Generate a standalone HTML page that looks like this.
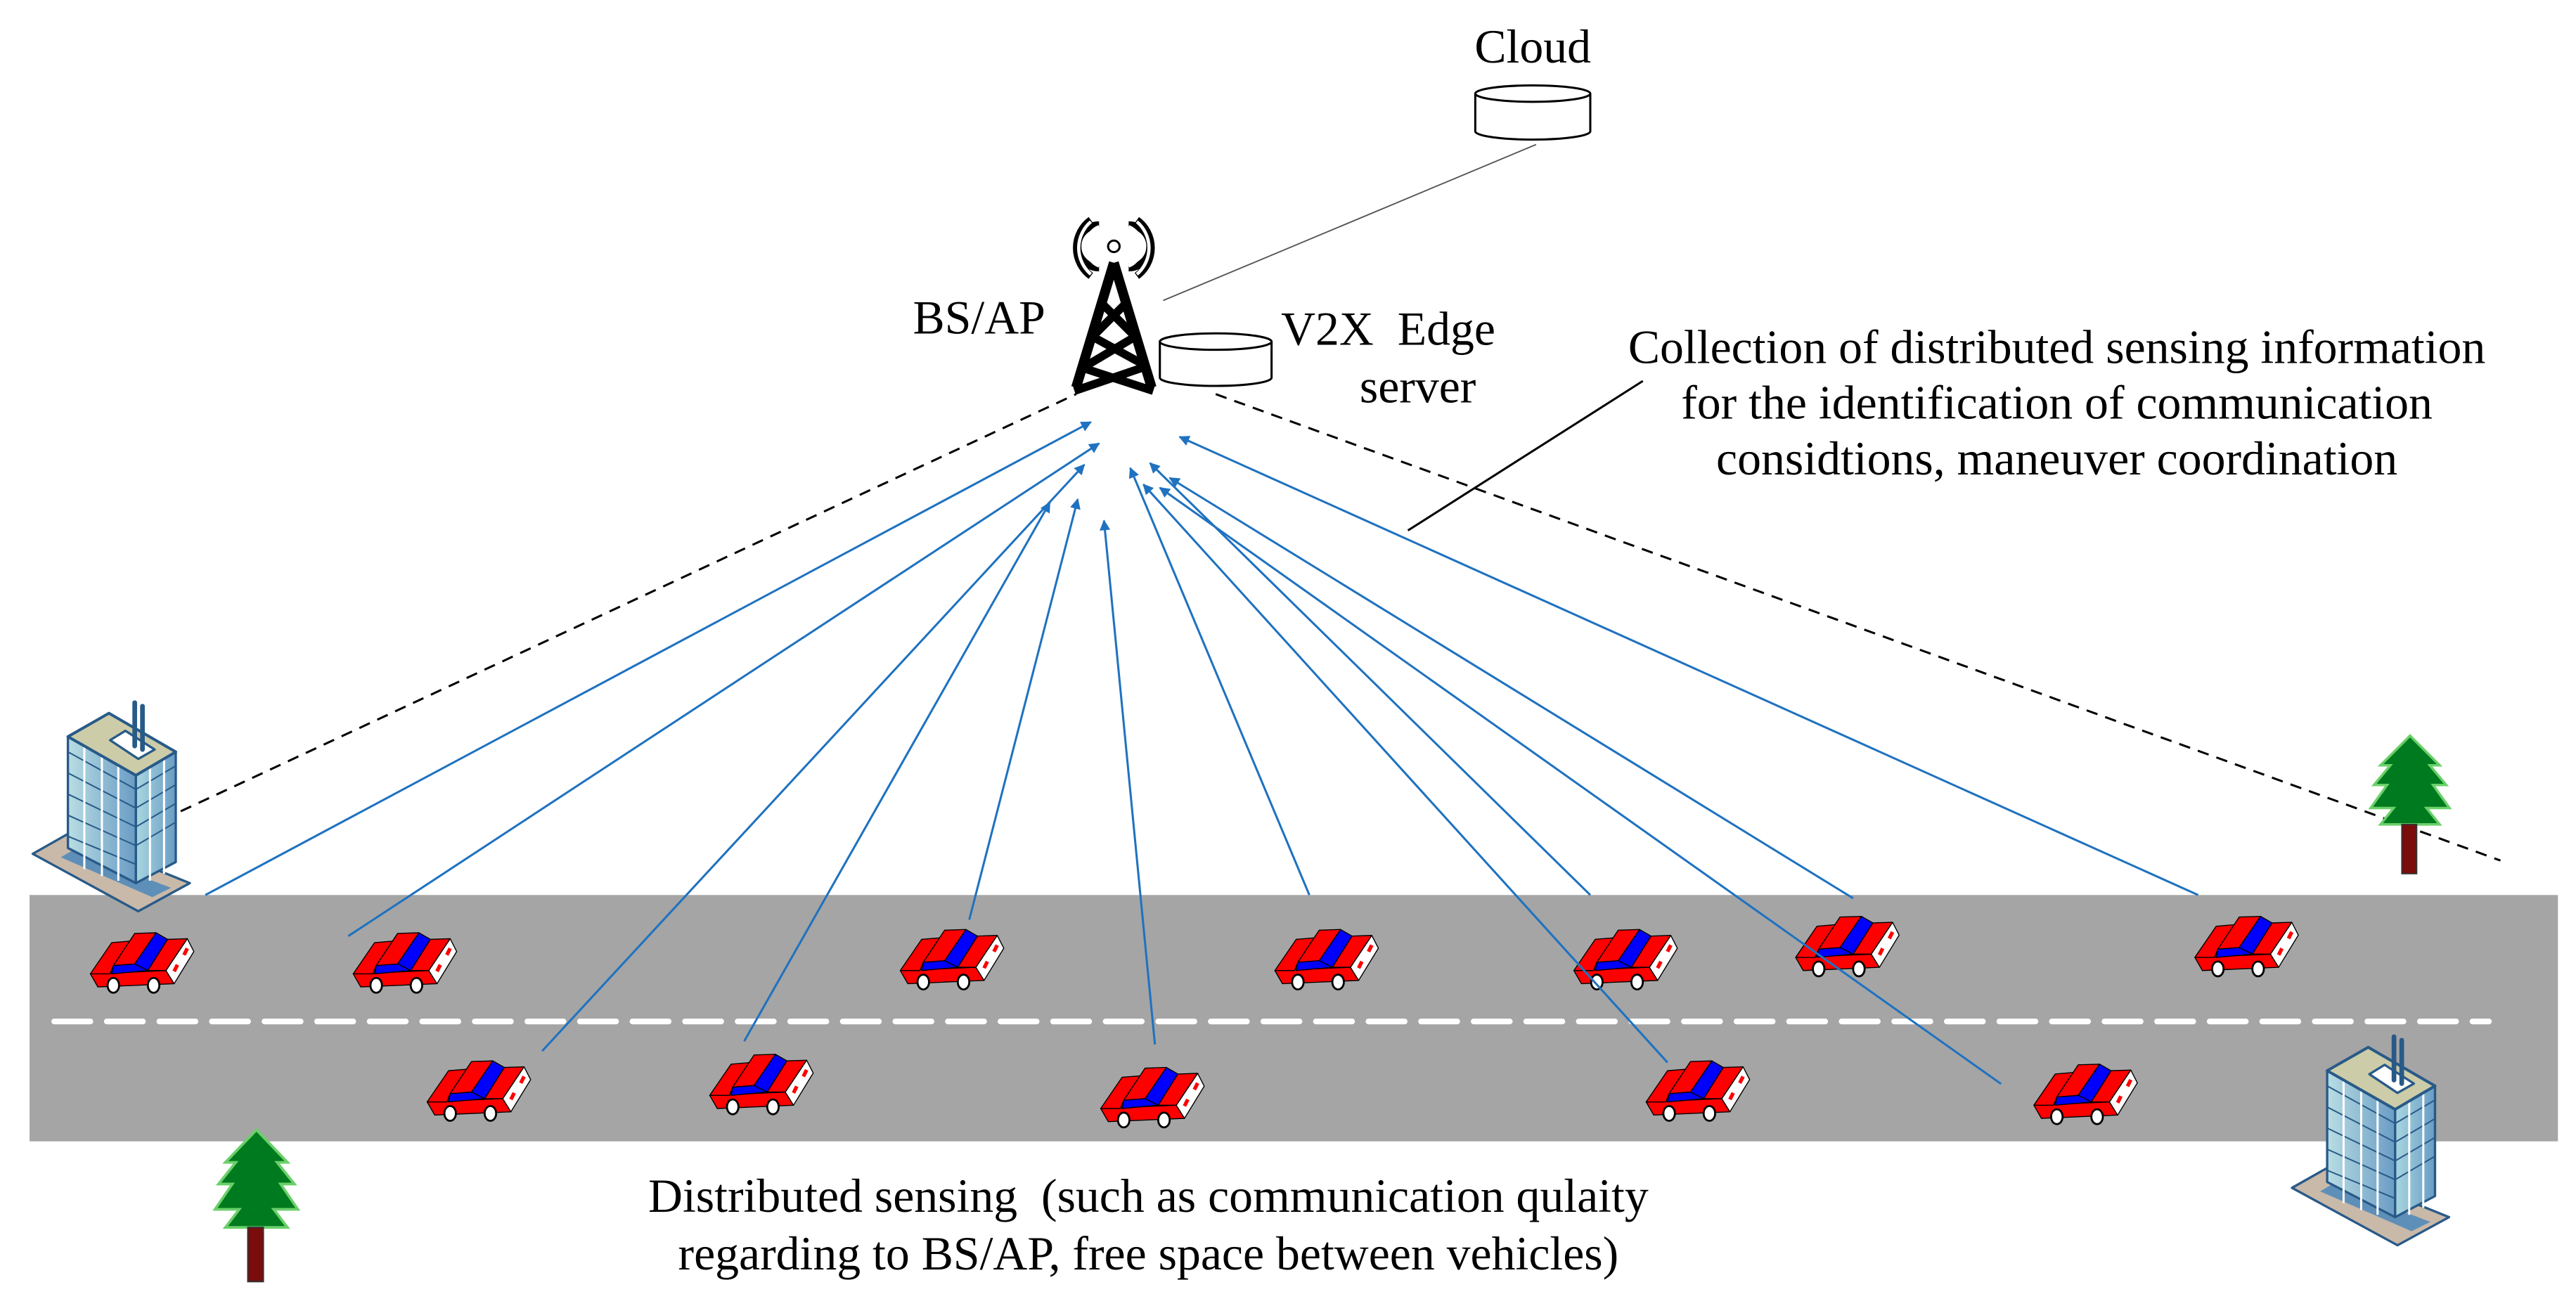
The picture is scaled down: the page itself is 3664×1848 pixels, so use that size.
<!DOCTYPE html>
<html><head><meta charset="utf-8"><style>
html,body{margin:0;padding:0;background:#fff;}
svg{display:block;}
text{font-family:"Liberation Serif",serif;font-size:29px;fill:#000;}
</style></head><body>
<svg width="3664" height="1848" viewBox="0 0 1568 791" preserveAspectRatio="none" xmlns="http://www.w3.org/2000/svg">
<defs>
<marker id="ah" viewBox="0 0 10 10" refX="9" refY="5" markerWidth="5" markerHeight="5" orient="auto"><path d="M0,0 L10,5 L0,10 z" fill="#1f72c0"/></marker>
<g id="car" stroke="#000" stroke-width="0.6" stroke-linejoin="round">
<polygon points="0,25 4.6,33 51,31 46,23" fill="#f00"/>
<polygon points="46,23 51,31 63,11.4 59,3.6" fill="#fff"/>
<polygon points="0,25 13,6 25,5 14,20 12,25" fill="#f00"/>
<polygon points="14,20 27,0.4 40,0 27,19" fill="#f00"/>
<polygon points="27,19 40,0 47,4 35,23" fill="#00f"/>
<polygon points="14,20 27,19 35,23 13,25" fill="#00f"/>
<polygon points="35,23 47,4 59,3.6 46,23" fill="#f00"/>
<polygon points="56,13 58,9 60,10 58,14" fill="#f00" stroke="none"/>
<polygon points="50,23 52,19 54,20 52,24" fill="#f00" stroke="none"/>
<ellipse cx="14" cy="32" rx="3.5" ry="4.5" fill="#fff" stroke-width="1.2"/>
<ellipse cx="38.5" cy="32" rx="3.5" ry="4.5" fill="#fff" stroke-width="1.2"/>
</g>
<linearGradient id="bl" x1="0" x2="1"><stop offset="0" stop-color="#b8dde3"/><stop offset="1" stop-color="#6a9cc4"/></linearGradient>
<linearGradient id="br" x1="0" x2="1"><stop offset="0" stop-color="#a8d6e0"/><stop offset="1" stop-color="#6a9cc4"/></linearGradient>
<g id="bld" stroke="#285a88" stroke-width="10" stroke-linejoin="round">
<polygon points="50,675 200,590 720,800 500,920" fill="#c9b9a9"/>
<polygon points="170,690 220,660 640,820 560,860" fill="#5e8fb8" stroke="none"/>
<polygon points="200,175 490,340 490,800 200,650" fill="url(#bl)"/>
<polygon points="490,340 660,240 660,710 490,800" fill="url(#br)"/>
<g stroke-width="6" fill="none">
<path d="M200,240 L490,400 M200,330 L490,480 M200,420 L490,560 M200,510 L490,640 M200,600 L490,720"/>
<path d="M490,400 L660,300 M490,480 L660,380 M490,560 L660,460 M490,640 L660,540"/>
<path d="M270,210 L270,740 M345,250 L345,770 M415,290 L415,790 M550,305 L550,790 M610,270 L610,760" stroke="#fff" stroke-width="9"/>
</g>
<polygon points="200,175 375,75 660,240 490,340" fill="#cccca8" stroke-width="12"/>
<polygon points="380,190 445,150 570,230 500,270" fill="#fff" stroke-width="10"/>
<path d="M485,30 L485,215 M518,45 L518,230" stroke-width="20" stroke-linecap="round" fill="none"/>
</g>
<g id="tree">
<polygon points="22,0 4,18 10,18 0,30 8,30 -2,44 12,44 4,54 40,54 32,44 46,44 36,30 44,30 34,18 40,18" fill="#007a1e" stroke="#6ad06a" stroke-width="1.5"/>
<rect x="17" y="54" width="9" height="30" fill="#7a0c0c" stroke="#333" stroke-width="0.8"/>
</g>
</defs>

<rect x="18" y="545" width="1539" height="150" fill="#a5a5a5"/>
<line x1="33" y1="622" x2="1515" y2="622" stroke="#fff" stroke-width="3.5" stroke-dasharray="22,10" stroke-linecap="round"/>

<line x1="110" y1="494" x2="655" y2="240" stroke="#000" stroke-width="1.3" stroke-dasharray="7,5"/>
<line x1="740" y1="240" x2="1522" y2="524" stroke="#000" stroke-width="1.3" stroke-dasharray="7,5"/>

<use href="#bld" transform="translate(12.8,423.6) scale(0.1427)"/>
<use href="#bld" transform="translate(1388,627) scale(0.1427)"/>
<use href="#tree" transform="translate(1445,448)"/>
<use href="#tree" transform="translate(133,688) scale(1.05,1.1)"/>

<use href="#car" x="55" y="568"/>
<use href="#car" x="215" y="568"/>
<use href="#car" x="548" y="566"/>
<use href="#car" x="776" y="566"/>
<use href="#car" x="958" y="566"/>
<use href="#car" x="1093" y="558"/>
<use href="#car" x="1336" y="558"/>
<use href="#car" x="260" y="646"/>
<use href="#car" x="432" y="642"/>
<use href="#car" x="670" y="650"/>
<use href="#car" x="1002" y="646"/>
<use href="#car" x="1238" y="648"/>

<g stroke="#1f72c0" stroke-width="1.3" fill="none" marker-end="url(#ah)">
<line x1="125" y1="545" x2="664" y2="257"/>
<line x1="212" y1="570" x2="669" y2="270"/>
<line x1="330" y1="640" x2="660" y2="283"/>
<line x1="453" y1="634" x2="639" y2="306"/>
<line x1="590" y1="560" x2="656" y2="304"/>
<line x1="703" y1="636" x2="672" y2="317"/>
<line x1="797" y1="545" x2="688" y2="285"/>
<line x1="968" y1="545" x2="700" y2="282"/>
<line x1="1015" y1="647" x2="696" y2="295"/>
<line x1="1128" y1="547" x2="712" y2="291"/>
<line x1="1218" y1="660" x2="706" y2="297"/>
<line x1="1338" y1="545" x2="718" y2="266"/>
</g>

<line x1="935" y1="88" x2="708" y2="183" stroke="#555" stroke-width="0.8"/>
<g stroke="#000" stroke-width="1.3" fill="#fff">
<path d="M898,57 L898,80 A35,5 0 0 0 968,80 L968,57"/>
<ellipse cx="933" cy="57" rx="35" ry="5"/>
</g>
<text x="933" y="38" text-anchor="middle">Cloud</text>

<g fill="none" stroke="#000">
<path d="M678,160 L655,236 M678,160 L701,236" stroke-width="6"/>
<path d="M671,185 L691,205 M685,185 L665,205 M665,205 L698,223 M691,205 L659,224 M659,224 L702,238 M698,223 L654,238" stroke-width="5"/>
<circle cx="678" cy="150" r="3.5" stroke-width="1.3"/>
<g stroke-width="4.5">
<path d="M664,168 A21,21 0 0 1 664,134 M669,163 A13,13 0 0 1 669,137"/>
<path d="M692,168 A21,21 0 0 0 692,134 M687,163 A13,13 0 0 0 687,137"/>
</g>
<g stroke-width="2" stroke="#fff">
<path d="M664,167 A21,21 0 0 1 664,135 M669,162 A13,13 0 0 1 669,138"/>
<path d="M692,167 A21,21 0 0 0 692,135 M687,162 A13,13 0 0 0 687,138"/>
</g>
</g>
<g stroke="#000" stroke-width="1.3" fill="#fff">
<path d="M706,208 L706,230 A34,5 0 0 0 774,230 L774,208"/>
<ellipse cx="740" cy="208" rx="34" ry="5"/>
</g>
<text x="596" y="203" text-anchor="middle">BS/AP</text>
<text x="845" y="210" text-anchor="middle">V2X&#160;&#160;Edge</text>
<text x="863" y="245" text-anchor="middle">server</text>

<line x1="1000" y1="232" x2="857" y2="323" stroke="#000" stroke-width="1.3"/>
<text x="1252" y="221" text-anchor="middle">Collection of distributed sensing information</text>
<text x="1252" y="255" text-anchor="middle">for the identification of communication</text>
<text x="1252" y="289" text-anchor="middle">considtions, maneuver coordination</text>

<text x="699" y="738" text-anchor="middle">Distributed sensing&#160;&#160;(such as communication qulaity</text>
<text x="699" y="773" text-anchor="middle">regarding to BS/AP, free space between vehicles)</text>
</svg>
</body></html>
